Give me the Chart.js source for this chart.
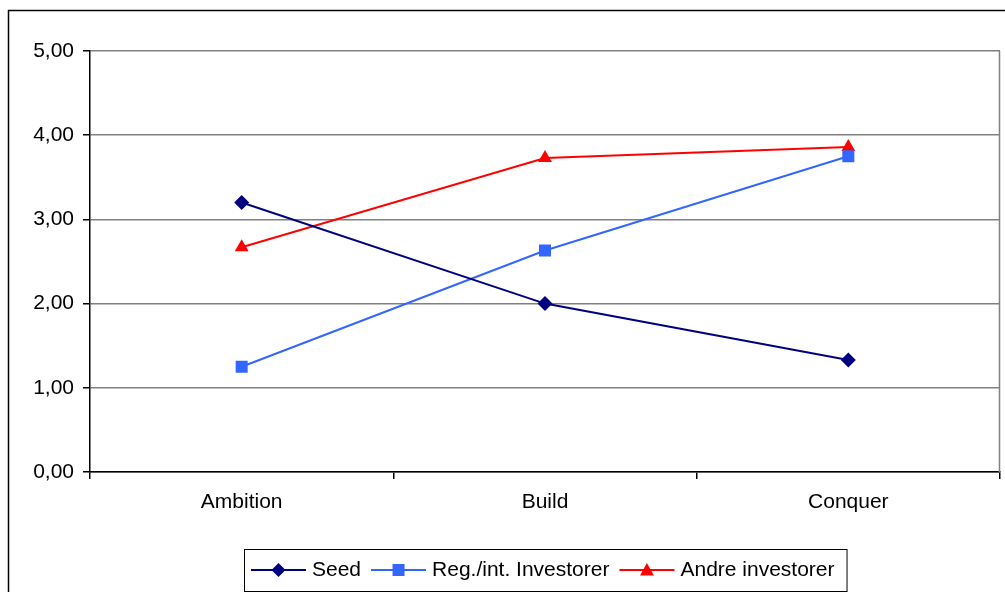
<!DOCTYPE html>
<html>
<head>
<meta charset="utf-8">
<script src="https://cdn.jsdelivr.net/npm/chart.js@4"></script>
<style>
  html, body { margin: 0; padding: 0; background: #fff; overflow: hidden; }
  #wrap { position: relative; width: 1005px; height: 592px; }
  canvas { display: block; }
</style>
</head>
<body>
<div id="wrap"><canvas id="chart" width="1005" height="592"></canvas></div>
<script>
const categories = ['Ambition', 'Build', 'Conquer'];
const seed = [3.20, 2.00, 1.33];
const regInt = [1.25, 2.63, 3.75];
const andre = [2.67, 3.73, 3.86];
const yTicks = [0, 1, 2, 3, 4, 5];

const FONT = '"Liberation Sans", Arial, sans-serif';

// frame around the whole chart plus the grey right edge of the plot
const framePlugin = {
    id: 'frame',
    beforeDraw(chart) {
        const ctx = chart.ctx;
        ctx.save();
        ctx.fillStyle = '#fff';
        ctx.fillRect(0, 0, chart.width, chart.height);
        ctx.strokeStyle = '#000';
        ctx.lineWidth = 1.5;
        ctx.strokeRect(8.5, 10.5, 1010, 600);
        ctx.restore();
    },
    beforeDatasetsDraw(chart) {
        const a = chart.chartArea;
        const ctx = chart.ctx;
        ctx.save();
        ctx.strokeStyle = '#808080';
        ctx.lineWidth = 1.5;
        ctx.beginPath();
        ctx.moveTo(a.right - 0.5, a.top);
        ctx.lineTo(a.right - 0.5, a.bottom);
        ctx.stroke();
        ctx.restore();
    }
};

function drawMarker(ctx, style, x, y, color) {
    ctx.fillStyle = color;
    ctx.beginPath();
    if (style === 'rectRot') {
        const r = 7;
        ctx.moveTo(x, y - r); ctx.lineTo(x + r, y); ctx.lineTo(x, y + r); ctx.lineTo(x - r, y);
    } else if (style === 'rect') {
        const h = 6;
        ctx.rect(x - h, y - h, h * 2, h * 2);
    } else {
        const r = 7;
        ctx.moveTo(x, y - r); ctx.lineTo(x + r, y + r * 0.8); ctx.lineTo(x - r, y + r * 0.8);
    }
    ctx.closePath();
    ctx.fill();
}

// legend box at the bottom: line + marker, then the label
const legendPlugin = {
    id: 'boxLegend',
    afterDraw(chart) {
        const ctx = chart.ctx;
        const sets = chart.data.datasets;
        ctx.save();
        ctx.font = '21px ' + FONT;
        const lineLen = 55, textGap = 6, itemGap = 10, padL = 7, padR = 12;
        let total = 0;
        sets.forEach((ds, i) => {
            total += lineLen + textGap + ctx.measureText(ds.label).width;
            if (i < sets.length - 1) total += itemGap;
        });
        const cx = (chart.chartArea.left + chart.chartArea.right) / 2;
        const boxW = total + padL + padR;
        const boxLeft = Math.round(cx - boxW / 2);
        const boxTop = 549, boxH = 42;
        ctx.strokeStyle = '#000';
        ctx.lineWidth = 1;
        ctx.strokeRect(boxLeft + 0.5, boxTop + 0.5, boxW, boxH);
        const y = boxTop + boxH / 2;
        let x = boxLeft + padL;
        sets.forEach(ds => {
            ctx.strokeStyle = ds.borderColor;
            ctx.lineWidth = 2;
            ctx.beginPath();
            ctx.moveTo(x, y);
            ctx.lineTo(x + lineLen, y);
            ctx.stroke();
            drawMarker(ctx, ds.pointStyle, x + lineLen / 2, y, ds.borderColor);
            x += lineLen + textGap;
            ctx.fillStyle = '#000';
            ctx.textBaseline = 'middle';
            ctx.fillText(ds.label, x, y);
            x += ctx.measureText(ds.label).width + itemGap;
        });
        ctx.restore();
    }
};

function series(label, data, color, style, radius) {
    return {
        label,
        data,
        borderColor: color,
        backgroundColor: color,
        pointBackgroundColor: color,
        pointBorderColor: color,
        pointStyle: style,
        pointRadius: radius,
        pointBorderWidth: 0,
        borderWidth: 2,
        tension: 0
    };
}

new Chart(document.getElementById('chart'), {
    type: 'line',
    data: {
        labels: categories,
        datasets: [
            series('Seed', seed, '#000080', 'rectRot', 7.5),
            series('Reg./int. Investorer', regInt, '#3366FF', 'rect', 8.5),
            series('Andre investorer', andre, '#FF0000', 'triangle', 8)
        ]
    },
    options: {
        responsive: false,
        animation: false,
        events: [],
        layout: { autoPadding: false, padding: { top: 51, right: 5, left: 0, bottom: 0 } },
        plugins: { legend: { display: false }, tooltip: { enabled: false } },
        scales: {
            x: {
                offset: true,
                afterFit(scale) {
                    scale.height = 120;
                    scale.paddingLeft = 0;
                    scale.paddingRight = 0;
                },
                grid: {
                    offset: true,
                    drawOnChartArea: false,
                    drawTicks: true,
                    tickLength: 7,
                    color: '#000',
                    lineWidth: 1.5
                },
                border: { color: '#000', width: 1.5 },
                ticks: { color: '#000', font: { family: FONT, size: 21 }, padding: 11 }
            },
            y: {
                min: 0,
                max: 5,
                afterFit(scale) { scale.width = 90; },
                afterBuildTicks(scale) { scale.ticks = yTicks.map(v => ({ value: v })); },
                grid: {
                    color: '#808080',
                    lineWidth: 1.5,
                    drawTicks: true,
                    tickLength: 7,
                    tickColor: '#000'
                },
                border: { color: '#000', width: 1.5 },
                ticks: {
                    color: '#000',
                    font: { family: FONT, size: 21 },
                    padding: 9,
                    callback: v => v.toFixed(2).replace('.', ',')
                }
            }
        }
    },
    plugins: [framePlugin, legendPlugin]
});
</script>
</body>
</html>
